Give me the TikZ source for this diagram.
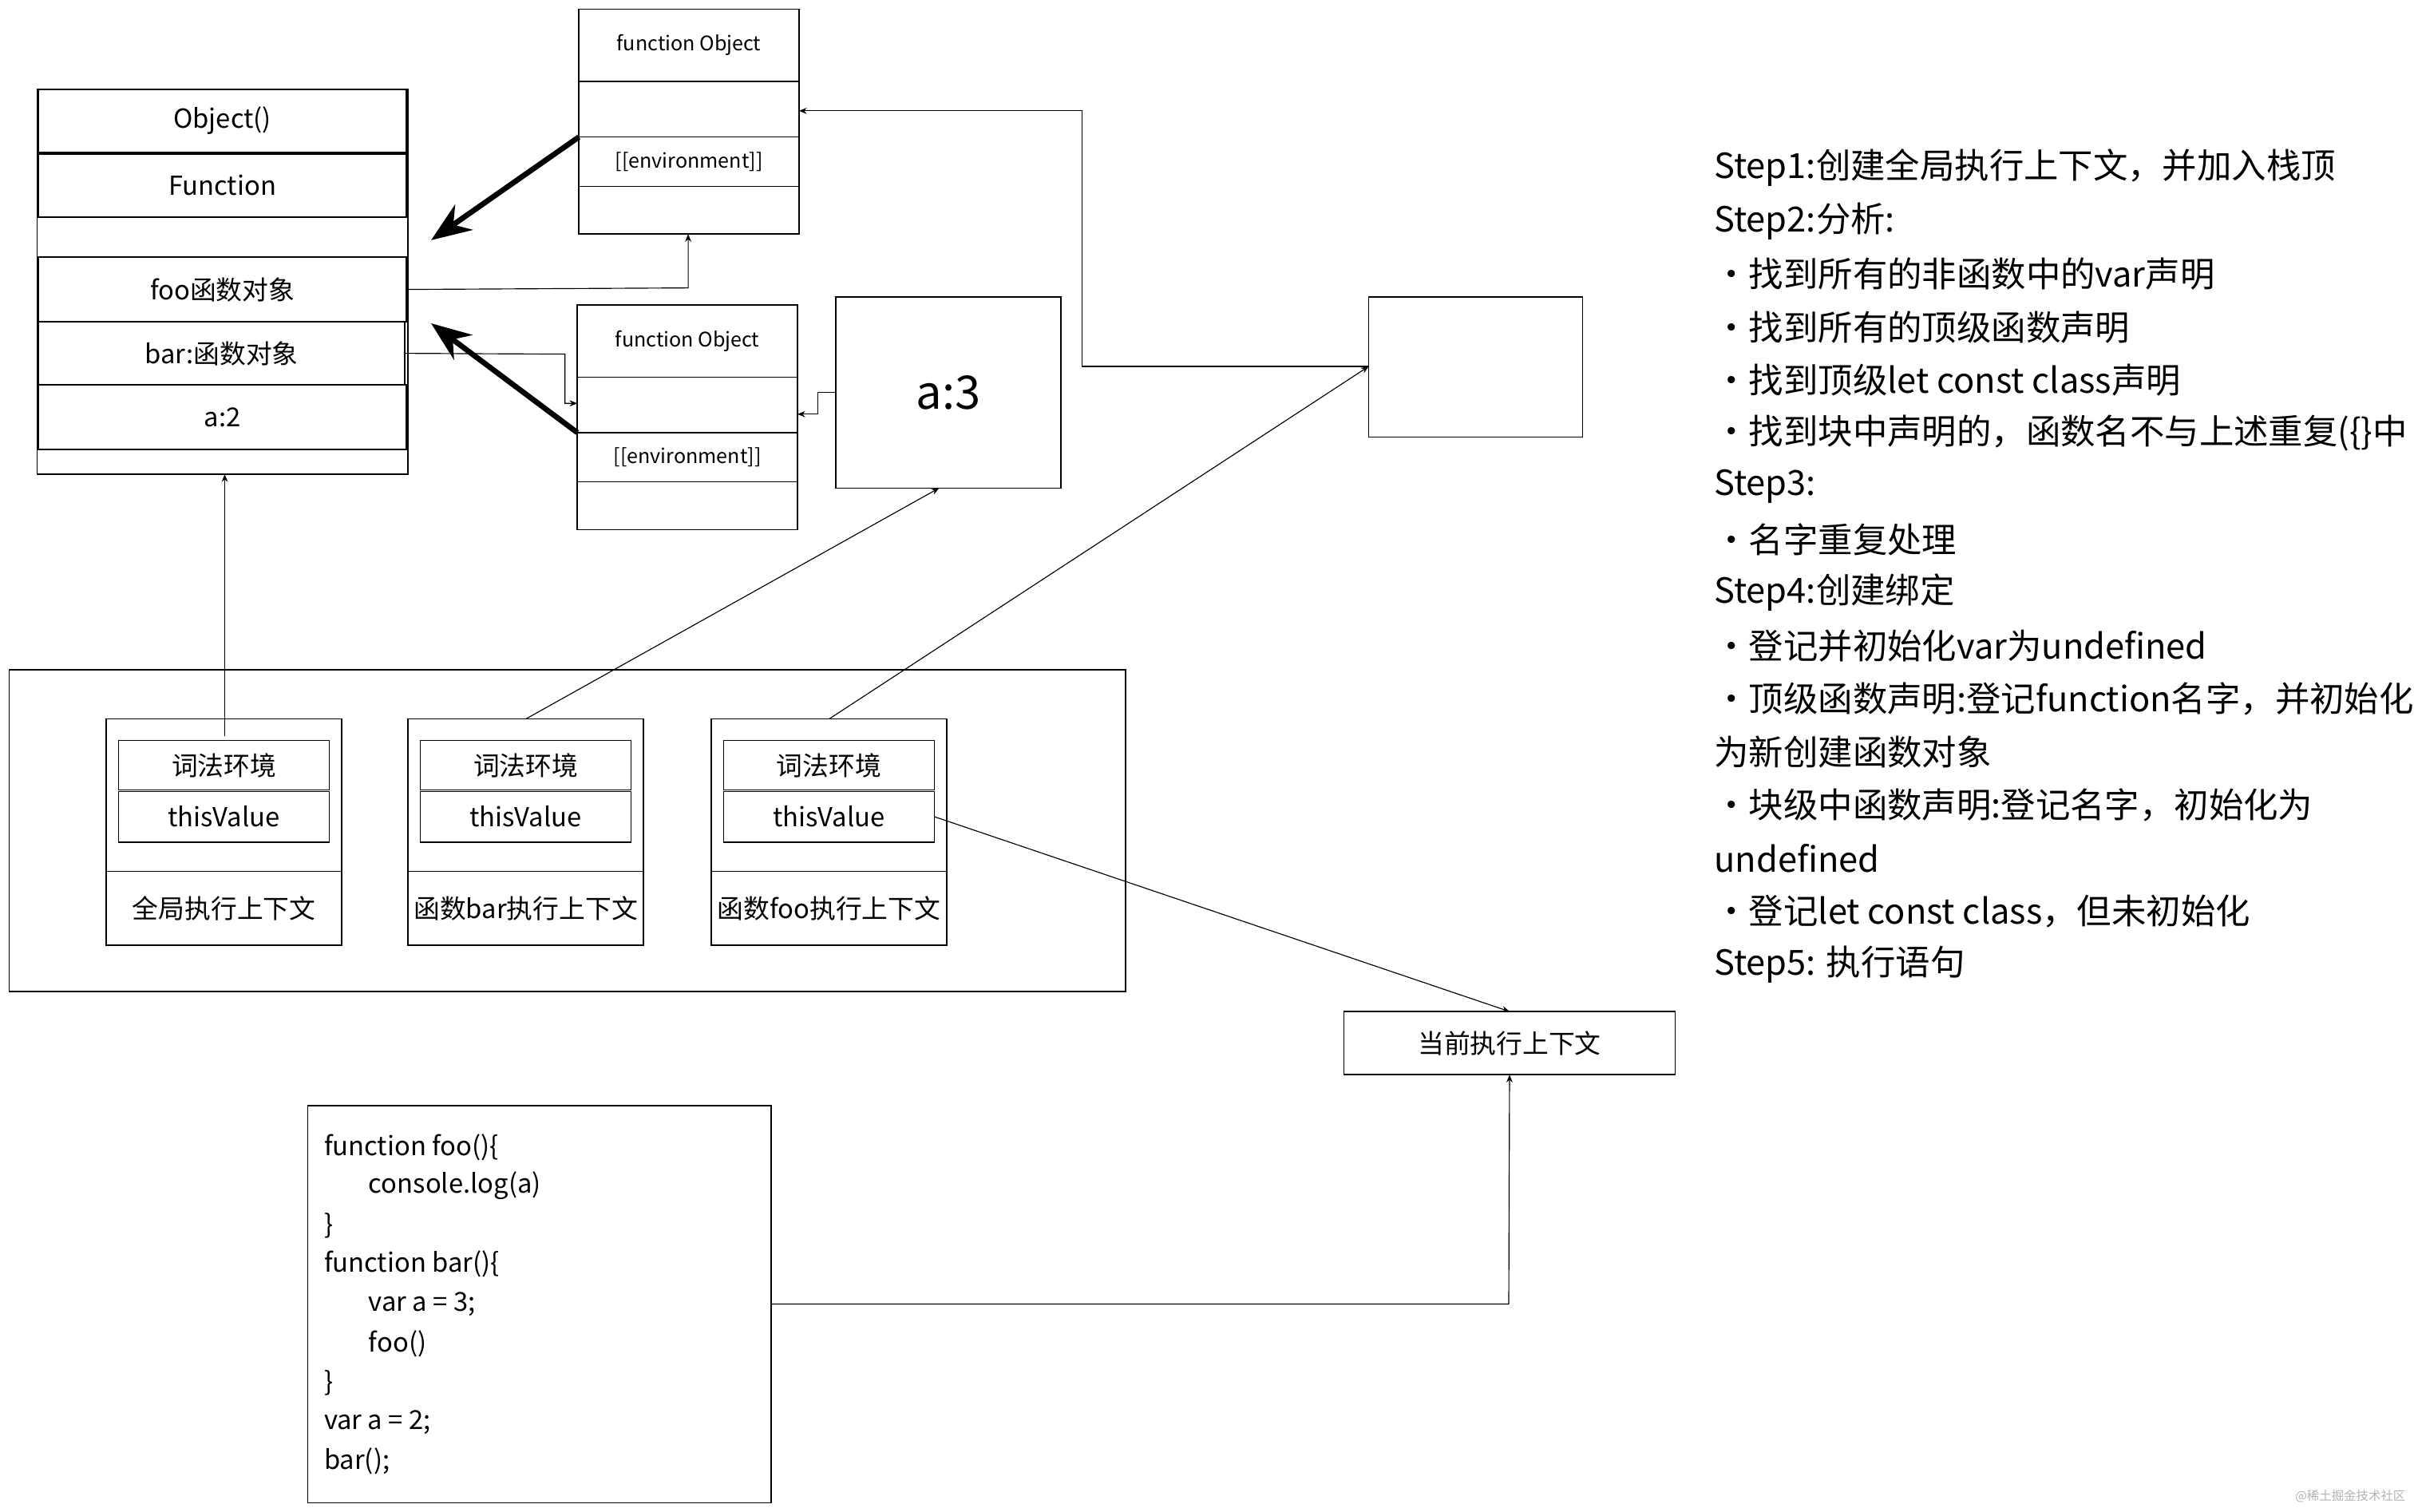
\documentclass[tikz,border=0pt]{standalone}
\usepackage{fontspec}
\setmainfont{Noto Sans CJK SC}
\usetikzlibrary{arrows.meta}
\begin{document}
\begin{tikzpicture}[x=1pt,y=-1pt,
  bx/.style={draw,line width=0.8pt,anchor=north west,inner sep=0pt,outer sep=0pt},
  lbl/.style={font=\fontsize{17}{20}\selectfont},
  sm/.style={font=\fontsize{13}{15}\selectfont},
  con/.style={line width=0.6pt,-{Stealth[length=5pt,width=4pt]}},
  thick arr/.style={line width=3.5pt,-{Stealth[length=26pt,width=20pt]}},
  step line/.style={anchor=west,font=\fontsize{22.5}{26}\selectfont}]
\useasboundingbox (0,0) rectangle (1568,982);
% big object box
\node[bx,minimum width=241pt,minimum height=250pt] (big) at (24,58) {};
\node[bx,minimum width=239pt,minimum height=41pt,lbl] (obj) at (25,58) {Object()};
\node[bx,minimum width=239pt,minimum height=41pt,lbl] (fun) at (25,100) {Function};
\node[bx,minimum width=239pt,minimum height=42pt,lbl] (foo) at (25,167) {foo函数对象};
\node[bx,minimum width=238pt,minimum height=41pt,lbl] (bar) at (25,209) {bar:函数对象};
\node[bx,minimum width=239pt,minimum height=42pt,lbl] (a2) at (25,250) {a:2};
% function object 1
\node[bx,minimum width=143pt,minimum height=146pt] (fo1) at (376,6) {};
\node[bx,minimum width=143pt,minimum height=47pt,sm] (fo1t) at (376,6) {function Object};
\node[bx,minimum width=143pt,minimum height=36pt] (fo1e) at (376,53) {};
\node[bx,minimum width=143pt,minimum height=32pt,sm] (fo1env) at (376,89) {[[environment]]};
% function object 2
\node[bx,minimum width=143pt,minimum height=146pt] (fo2) at (375,198) {};
\node[bx,minimum width=143pt,minimum height=47pt,sm] (fo2t) at (375,198) {function Object};
\node[bx,minimum width=143pt,minimum height=36pt] (fo2e) at (375,245) {};
\node[bx,minimum width=143pt,minimum height=32pt,sm] (fo2env) at (375,281) {[[environment]]};
% a:3 and empty box
\node[bx,minimum width=146pt,minimum height=124pt,font=\fontsize{30}{34}\selectfont] (a3) at (543,193) {a:3};
\node[bx,minimum width=139pt,minimum height=91pt] (emp) at (889,193) {};
% contexts container
\node[bx,minimum width=725pt,minimum height=209pt] (stack) at (6,435) {};
\foreach \n/\x/\t in {g/69/全局执行上下文, b/265/函数bar执行上下文, f/462/函数foo执行上下文}{
  \node[bx,minimum width=153pt,minimum height=147pt] (\n ctx) at (\x,467) {};
  \node[bx,minimum width=137pt,minimum height=32pt,lbl] (\n lex) at (\x+8,481) {词法环境};
  \node[bx,minimum width=137pt,minimum height=33pt,lbl] (\n this) at (\x+8,514) {thisValue};
  \node[bx,minimum width=153pt,minimum height=48pt,lbl] (\n lab) at (\x,566) {\t};
}
% current context
\node[bx,minimum width=215pt,minimum height=41pt,lbl] (cur) at (873,657) {当前执行上下文};
% code
\node[bx,minimum width=301pt,minimum height=258pt] (code) at (200,718) {};
\begin{scope}[every node/.style={anchor=west,font=\fontsize{17}{20}\selectfont}]
\node (c1) at (207,745) {function foo()\{};
\node (c2) at (236,770) {console.log(a)};
\node (c3) at (207,796) {\}};
\node (c4) at (207,821) {function bar()\{};
\node (c5) at (236,847) {var a = 3;};
\node (c6) at (236,873) {foo()};
\node (c7) at (207,898) {\}};
\node (c8) at (207,924) {var a = 2;};
\node (c9) at (207,949) {bar();};
\end{scope}
% connectors
\draw[thick arr] (fo1env.north west) -- (280,156);
\draw[thick arr] (fo2env.north west) -- (280,210);
\draw[con] (foo.east) -- (447,187) -- (fo1.south -| 447,0);
\draw[con] (bar.east) -- (367,230) -- (367,262) -- (fo2e.west |- 0,262);
\draw[con] (a3.west |- 0,255) -- (531,255) -- (531,269) -- (fo2e.east |- 0,269);
\draw[con] (emp.west |- 0,238) -- (703,238) -- (703,72) -- (fo1e.east |- 0,72);
\draw[con] (gctx.north -| 146,0) ++(0,11) -- (big.south -| 146,0);
\draw[con] (bctx.north) -- (610,317);
\draw[con] (fctx.north) -- (emp.west |- 0,238);
\draw[con] (fthis.east) -- (cur.north);
\draw[con] (code.east |- 0,847) -- (980,847) -- (cur.south);
% steps
\foreach \t [count=\i from 0] in {Step1:创建全局执行上下文，并加入栈顶, Step2:分析:, ·找到所有的非函数中的var声明, ·找到所有的顶级函数声明, ·找到顶级let const class声明, ·找到块中声明的，函数名不与上述重复(\{\}中, Step3:, ·名字重复处理, Step4:创建绑定, ·登记并初始化var为undefined, ·顶级函数声明:登记function名字，并初始化, 为新创建函数对象, ·块级中函数声明:登记名字，初始化为, undefined, ·登记let const class，但未初始化, Step5: 执行语句}
  \node[step line] (s\i) at (1110,109+34.5*\i) {\t};
\node[anchor=east,text=gray!60,font=\fontsize{8}{10}\selectfont] (wm) at (1566,972) {@稀土掘金技术社区};
\end{tikzpicture}
\end{document}
